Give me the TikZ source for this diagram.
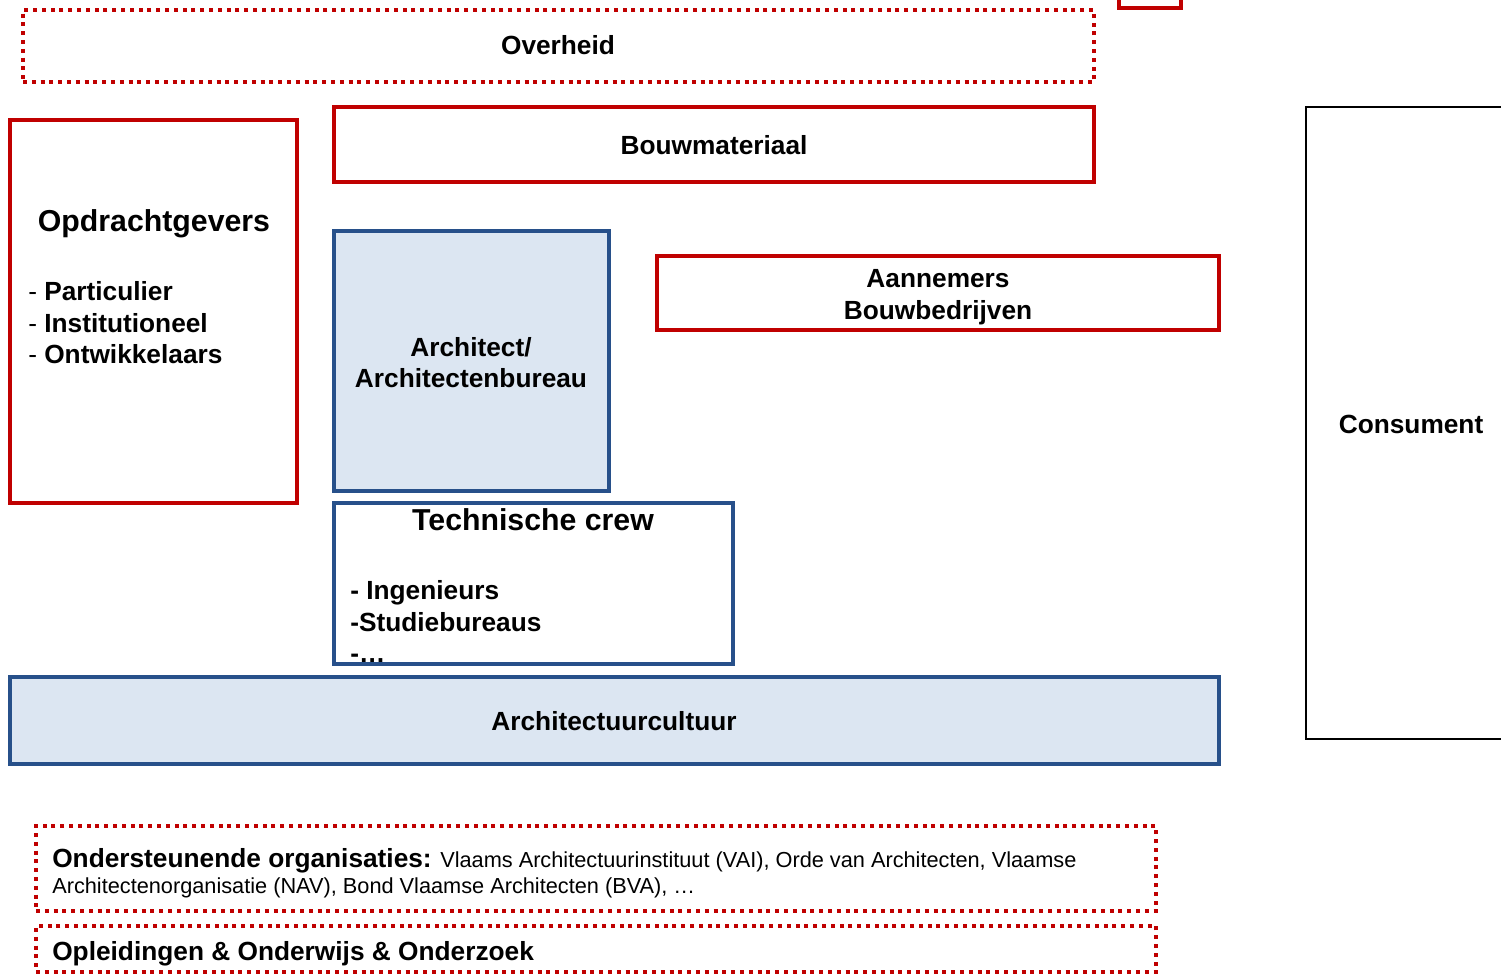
\documentclass[tikz,border=0pt]{standalone}
\usepackage{fontspec}
\setmainfont{Liberation Sans}
\definecolor{cred}{HTML}{C00000}
\definecolor{cblue}{HTML}{27508A}
\definecolor{cfill}{HTML}{DCE6F2}
\begin{document}
\begin{tikzpicture}[x=0.75pt,y=-0.75pt,
  frame/.style={inner sep=0pt, outer sep=0pt, anchor=north west},
  redbox/.style={frame, draw=cred, line width=2.4pt},
  redgrid/.style={frame, draw=cred, line width=3pt, dash pattern=on 3pt off 3.6pt},
  bluebox/.style={frame, draw=cblue, line width=2.4pt},
  bluefill/.style={bluebox, fill=cfill},
  blackbox/.style={frame, draw=black, line width=1.6pt},
  lbl/.style={inner sep=0pt, font=\fontsize{19.7}{23.6}\selectfont\bfseries},
  biglbl/.style={inner sep=0pt, font=\fontsize{22.7}{27}\selectfont\bfseries},
  smalltxt/.style={inner sep=0pt, font=\fontsize{16.3}{20}\selectfont}]
\useasboundingbox (0,0) rectangle (1501,974);

% frames
\node[redgrid, minimum width=1071*0.75pt, minimum height=72*0.75pt] (overheid) at (23,10) {};
\node[redbox, minimum width=62*0.75pt, minimum height=40*0.75pt] (legend) at (1119,-32) {};
\node[redbox, minimum width=760*0.75pt, minimum height=75*0.75pt] (bouw) at (334,107) {};
\node[redbox, minimum width=287*0.75pt, minimum height=383*0.75pt] (opdracht) at (10,120) {};
\node[bluefill, minimum width=275*0.75pt, minimum height=260*0.75pt] (arch) at (334,231) {};
\node[redbox, minimum width=562*0.75pt, minimum height=74*0.75pt] (aannemers) at (657,256) {};
\node[blackbox, minimum width=260*0.75pt, minimum height=632*0.75pt] (consument) at (1306,107) {};
\node[bluefill, minimum width=1209*0.75pt, minimum height=87*0.75pt] (cultuur) at (10,677) {};
\node[redgrid, minimum width=1120*0.75pt, minimum height=85*0.75pt] (steun) at (36,826) {};
\node[redgrid, minimum width=1120*0.75pt, minimum height=46*0.75pt] (opleiding) at (36,926) {};

% labels
\node[lbl, anchor=base] (tOverheid) at (558,55) {Overheid};
\node[lbl, anchor=base] (tBouw) at (714,154) {Bouwmateriaal};
\node[biglbl, anchor=base] (tOpdracht) at (154,231) {Opdrachtgevers};
\node[lbl, anchor=base west] (tOp1) at (28,300) {\mdseries -\ \bfseries Particulier};
\node[lbl, anchor=base west] (tOp2) at (28,332) {\mdseries -\ \bfseries Institutioneel};
\node[lbl, anchor=base west] (tOp3) at (28,363) {\mdseries -\ \bfseries Ontwikkelaars};
\node[lbl, anchor=base] (tArch1) at (471,356) {Architect/};
\node[lbl, anchor=base] (tArch2) at (471,387) {Architectenbureau};
\node[lbl, anchor=base] (tAann1) at (938,287) {Aannemers};
\node[lbl, anchor=base] (tAann2) at (938,319) {Bouwbedrijven};
\node[lbl, anchor=base] (tCons) at (1411,433) {Consument};

% technical crew: the list runs into the lower frame edge
\node[biglbl, anchor=base] (tTech) at (533,530) {Technische crew};
\node[lbl, anchor=base west] (tTech1) at (350,599) {- Ingenieurs};
\node[lbl, anchor=base west] (tTech2) at (350,631) {-Studiebureaus};
\node[lbl, anchor=base west] (tTech3) at (350,662) {-\dots};
\node[bluebox, minimum width=399*0.75pt, minimum height=161*0.75pt] (tech) at (334,503) {};

\node[lbl, anchor=base] (tCultuur) at (614,730) {Architectuurcultuur};
\node[lbl, anchor=base west] (tSteun1) at (52,867) {Ondersteunende organisaties:};
\node[smalltxt, anchor=base west] (tSteun2) at (440,867) {Vlaams Architectuurinstituut (VAI), Orde van Architecten, Vlaamse};
\node[smalltxt, anchor=base west] (tSteun3) at (52,893) {Architectenorganisatie (NAV), Bond Vlaamse Architecten (BVA), …};
\node[lbl, anchor=base west] (tOpl) at (52,960) {Opleidingen \& Onderwijs \& Onderzoek};
\end{tikzpicture}
\end{document}
